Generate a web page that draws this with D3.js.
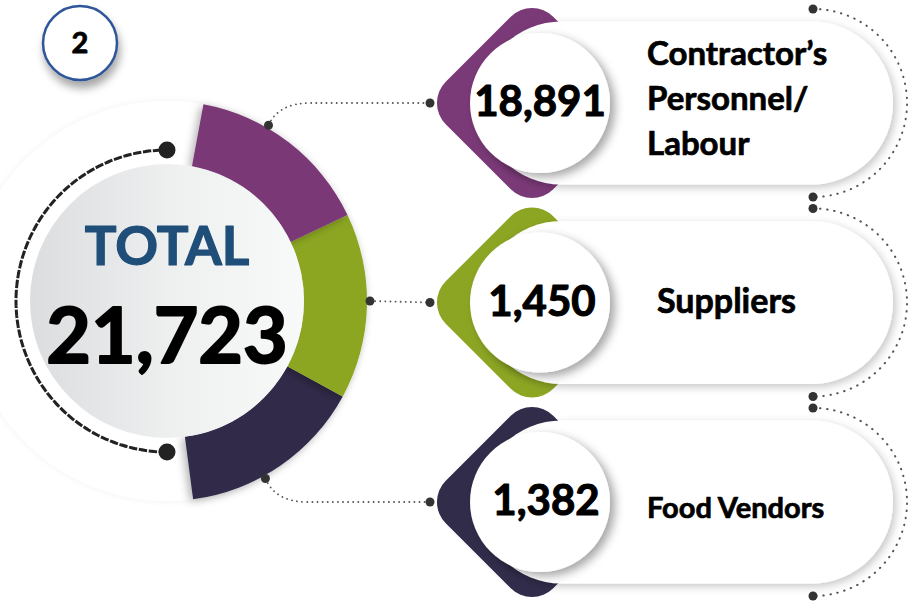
<!DOCTYPE html>
<html>
<head>
<meta charset="utf-8">
<script src="https://cdn.jsdelivr.net/npm/d3@7"></script>
<style>
  body { margin: 0; background: #fff; }
  svg { display: block; font-family: Lato, "Open Sans", sans-serif; font-weight: bold; }
  text { stroke-linejoin: round; }
</style>
</head>
<body>
<svg id="chart"></svg>
<script>
const width = 921,
      height = 601;

// data
const categories = ["Contractor’s Personnel/ Labour", "Suppliers", "Food Vendors"];
const labelLines = [["Contractor’s", "Personnel/", "Labour"], ["Suppliers"], ["Food Vendors"]];
const counts = [18891, 1450, 1382];
const colors = ["#7a3977", "#8ca623", "#312c4a"];
const badge = "2";
const totalLabel = "TOTAL";

const total = d3.sum(counts);
const fmt = d3.format(",");

const svg = d3.select("#chart")
  .attr("width", width)
  .attr("height", height);

const defs = svg.append("defs");

function shadow(id, dx, dy, sd, op) {
  defs.append("filter")
    .attr("id", id)
    .attr("x", "-30%").attr("y", "-30%")
    .attr("width", "160%").attr("height", "160%")
    .append("feDropShadow")
    .attr("dx", dx).attr("dy", dy)
    .attr("stdDeviation", sd)
    .attr("flood-color", "#000")
    .attr("flood-opacity", op);
}
shadow("pillShadow", 3, 3, 4, 0.22);
shadow("circShadow", 5, 4, 5, 0.35);
shadow("badgeShadow", 2, 7, 4, 0.35);
shadow("arcShadow", -3, 2, 4, 0.3);
shadow("faint", 0, 0, 3, 0.06);

const grad = defs.append("linearGradient").attr("id", "innerGrad");
grad.append("stop").attr("offset", "0%").attr("stop-color", "#dcdddf");
grad.append("stop").attr("offset", "55%").attr("stop-color", "#eff0f0");
grad.append("stop").attr("offset", "100%").attr("stop-color", "#f8f9f9");

// bold-ish text helper (thickens strokes a little)
function heavy(sel, w) {
  return sel.attr("stroke", function() { return d3.select(this).attr("fill"); })
    .attr("stroke-width", w);
}

// rows on the right
const y = d3.scalePoint()
  .domain(categories)
  .range([103, 502]);

const cx = 167, cy = 301;
const rInner = 137, rOuter = 200;

// ---- left donut ----
const left = svg.append("g").attr("transform", `translate(${cx},${cy})`);

left.append("circle")
  .attr("r", rOuter)
  .attr("fill", "#fff")
  .attr("filter", "url(#faint)");

const deg = Math.PI / 180;
const pie = d3.pie()
  .value(() => 1)
  .sort(null)
  .startAngle(10.5 * deg)
  .endAngle(172.5 * deg);

const arc = d3.arc().innerRadius(rInner).outerRadius(rOuter);
const arcs = pie(categories);

left.selectAll("path.seg")
  .data(arcs.slice().reverse())
  .join("path")
  .attr("class", "seg")
  .attr("d", arc)
  .attr("fill", d => colors[d.index])
  .attr("filter", "url(#arcShadow)");

left.append("circle")
  .attr("r", rInner)
  .attr("fill", "url(#innerGrad)");

// dashed arc on the left
const rDash = 151;
left.append("path")
  .attr("d", d3.arc().innerRadius(rDash).outerRadius(rDash)({ startAngle: 180 * deg, endAngle: 360 * deg }))
  .attr("fill", "none")
  .attr("stroke", "#222")
  .attr("stroke-width", 3)
  .attr("stroke-dasharray", "6,4");

[0, 180].forEach(a => {
  left.append("circle")
    .attr("cx", rDash * Math.sin(a * deg))
    .attr("cy", -rDash * Math.cos(a * deg))
    .attr("r", 8.5)
    .attr("fill", "#222");
});

heavy(left.append("text")
  .attr("text-anchor", "middle")
  .attr("y", -36)
  .attr("font-size", 53)
  .attr("fill", "#1f4e79")
  .text(totalLabel), 1.2);

heavy(left.append("text")
  .attr("text-anchor", "middle")
  .attr("y", 62)
  .attr("font-size", 77)
  .attr("fill", "#000")
  .text(fmt(total)), 2);

// ---- connectors from donut to rows ----
const linkAngles = [30, 90, 151];
const rLink = 203;
const xEnd = 430;

categories.forEach((c, i) => {
  const a = linkAngles[i] * deg;
  const x0 = cx + rLink * Math.sin(a);
  const y0 = cy - rLink * Math.cos(a);
  const yT = y(c);
  let d;
  if (Math.abs(y0 - yT) < 2) {
    d = `M${x0},${y0}L${xEnd},${yT}`;
  } else {
    d = `M${x0},${y0}Q${x0 + 10},${yT} ${x0 + 42},${yT}L${xEnd},${yT}`;
  }
  svg.append("path")
    .attr("d", d)
    .attr("fill", "none")
    .attr("stroke", "#555")
    .attr("stroke-width", 1.8)
    .attr("stroke-linecap", "round")
    .attr("stroke-dasharray", "0.1,5");
  [[x0, y0], [xEnd, yT]].forEach(p => {
    svg.append("circle")
      .attr("cx", p[0]).attr("cy", p[1])
      .attr("r", 4.5)
      .attr("fill", "#333");
  });
});

// ---- right rows ----
const pillX = 480, pillW = 413, pillH = 163;
const nodeX = 540, nodeR = 70;
const diamondS = 152, diamondCx = 532;

const rows = svg.selectAll("g.row")
  .data(categories)
  .join("g")
  .attr("class", "row")
  .attr("transform", d => `translate(0,${y(d)})`);

// dotted half-circles on the right
rows.append("path")
  .attr("d", d3.arc().innerRadius(94).outerRadius(94)({ startAngle: 0, endAngle: Math.PI }))
  .attr("transform", "translate(813,0)")
  .attr("fill", "none")
  .attr("stroke", "#555")
  .attr("stroke-width", 2)
  .attr("stroke-linecap", "round")
  .attr("stroke-dasharray", "0.1,7");

rows.each(function() {
  const g = d3.select(this);
  [-94, 94].forEach(dy => {
    g.append("circle")
      .attr("cx", 813).attr("cy", dy)
      .attr("r", 4.5)
      .attr("fill", "#333");
  });
});

rows.append("rect")
  .attr("x", -diamondS / 2).attr("y", -diamondS / 2)
  .attr("width", diamondS).attr("height", diamondS)
  .attr("rx", 30)
  .attr("transform", `translate(${diamondCx},0) rotate(45)`)
  .attr("fill", (d, i) => colors[i]);

rows.append("rect")
  .attr("x", pillX).attr("y", -pillH / 2)
  .attr("width", pillW).attr("height", pillH)
  .attr("rx", pillH / 2)
  .attr("fill", "#fff")
  .attr("filter", "url(#pillShadow)");

rows.append("circle")
  .attr("cx", nodeX).attr("r", nodeR)
  .attr("fill", "#fff")
  .attr("filter", "url(#circShadow)");

heavy(rows.append("text")
  .attr("x", (d, i) => nodeX + [0, 2, 6][i])
  .attr("y", 13)
  .attr("text-anchor", "middle")
  .attr("font-size", 42)
  .attr("fill", "#000")
  .text((d, i) => fmt(counts[i])), 1.1);

const labelSize = [33, 34, 29];
const labelX = [647, 657, 647];
rows.each(function(d, i) {
  const lines = labelLines[i];
  const lh = 45;
  const t = heavy(d3.select(this).append("text")
    .attr("font-size", labelSize[i])
    .attr("fill", "#000"), 0.7);
  lines.forEach((l, j) => {
    t.append("tspan")
      .attr("x", labelX[i])
      .attr("y", (j - (lines.length - 1) / 2) * lh + (i === 0 ? 7 : 10) + (i === 2 ? 6 : 0))
      .text(l);
  });
});

// ---- badge ----
const b = svg.append("g").attr("transform", "translate(80,43)");
b.append("circle")
  .attr("r", 37)
  .attr("fill", "#fff")
  .attr("stroke", "#2f5597")
  .attr("stroke-width", 2.5)
  .attr("filter", "url(#badgeShadow)");
heavy(b.append("text")
  .attr("text-anchor", "middle")
  .attr("y", 10)
  .attr("font-size", 29)
  .attr("fill", "#000")
  .text(badge), 0.8);
</script>
</body>
</html>
